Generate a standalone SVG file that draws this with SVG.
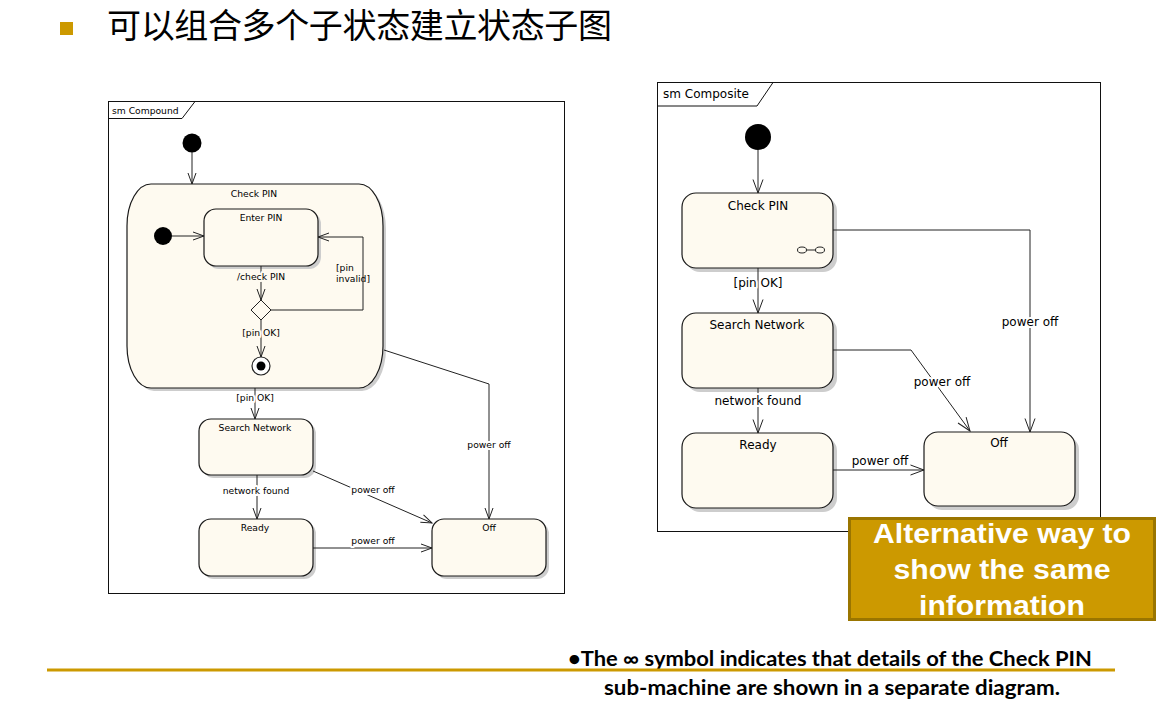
<svg xmlns="http://www.w3.org/2000/svg" width="1165" height="725" viewBox="0 0 1165 725">
  <defs>
    <!-- open V arrowheads for transitions -->
    <marker id="arrS" markerWidth="14" markerHeight="10" refX="12" refY="5" orient="auto" markerUnits="userSpaceOnUse">
      <path d="M1,1 L12,5 L1,9" fill="none" stroke="#222" stroke-width="1"/>
    </marker>
    <marker id="arrL" markerWidth="16" markerHeight="12" refX="14.5" refY="6" orient="auto" markerUnits="userSpaceOnUse">
      <path d="M1,1 L14.5,6 L1,11" fill="none" stroke="#222" stroke-width="1"/>
    </marker>
  </defs>
  <style>
    .frame{fill:none;stroke:#111;stroke-width:1}
    .st{fill:#FEFAF0;stroke:#1a1a1a;stroke-width:1.2}
    .sh{fill:#cdcdcd}
    .ln{fill:none;stroke:#222;stroke-width:1}
    .lnS{marker-end:url(#arrS)}
    .lnL{marker-end:url(#arrL)}
    .t9{font-family:"DejaVu Sans",Verdana,sans-serif;font-size:9.2px;fill:#000}
    .t12{font-family:"DejaVu Sans",Verdana,sans-serif;font-size:12px;fill:#000}
    .mid{text-anchor:middle}
    .bgc{paint-order:stroke;stroke:#FEFAF0;stroke-width:4px;stroke-linejoin:round}
    .bgw{paint-order:stroke;stroke:#fff;stroke-width:4px;stroke-linejoin:round}
    .note{font-family:Lato,"Open Sans","DejaVu Sans",sans-serif;font-weight:bold;font-size:20px;fill:#000}
    .callout{font-family:"Liberation Sans",Arial,sans-serif;font-weight:bold;font-size:28px;fill:#fff;text-anchor:middle}
  </style>

  <rect width="1165" height="725" fill="#fff"/>

  <!-- heading -->
  <g id="heading">
    <rect x="60" y="22" width="13" height="13" fill="#CC9900"/>
    <text x="107" y="38" font-family="'Noto Sans CJK SC','Noto Sans CJK JP',sans-serif" font-size="34" textLength="505" lengthAdjust="spacing" fill="#000">可以组合多个子状态建立状态子图</text>
  </g>

  <!-- ===== left: compound state machine ===== -->
  <g id="frame-compound">
    <rect x="108.5" y="101.5" width="456" height="492" class="frame"/>
    <path d="M108.5,118.5 H182 L195,101.5" class="frame"/>
    <text x="112" y="114" class="t9">sm Compound</text>
  </g>

  <g id="left-initial">
    <circle cx="192" cy="143" r="9.5" fill="#000"/>
  </g>

  <g id="left-check-pin">
    <path class="sh" transform="translate(3,3)" d="M151,184 H359 A24,42 0 0 1 383,226 V346 A24,42 0 0 1 359,388 H151 A24,42 0 0 1 127,346 V226 A24,42 0 0 1 151,184 Z"/>
    <path class="st" d="M151,184 H359 A24,42 0 0 1 383,226 V346 A24,42 0 0 1 359,388 H151 A24,42 0 0 1 127,346 V226 A24,42 0 0 1 151,184 Z"/>
    <text x="254" y="197" class="t9 mid">Check PIN</text>
  </g>

  <g id="left-enter-pin">
    <rect class="sh" x="207" y="212" width="114" height="57" rx="12"/>
    <rect class="st" x="204" y="209" width="114" height="57" rx="12"/>
    <text x="261" y="221" class="t9 mid">Enter PIN</text>
  </g>

  <g id="left-inner-initial">
    <circle cx="163" cy="236" r="9" fill="#000"/>
  </g>

  <g id="left-choice">
    <path d="M261,300 L271,310 L261,320 L251,310 Z" fill="#FEFAF0" stroke="#222" stroke-width="1"/>
  </g>

  <g id="left-final">
    <circle cx="261" cy="366" r="9" fill="#fff" stroke="#222" stroke-width="1.2"/>
    <circle cx="261" cy="366" r="4.5" fill="#000"/>
  </g>

  <g id="left-search-network">
    <rect class="sh" x="202" y="422" width="114" height="56" rx="12"/>
    <rect class="st" x="199" y="419" width="114" height="56" rx="12"/>
    <text x="255" y="431" class="t9 mid">Search Network</text>
  </g>

  <g id="left-ready">
    <rect class="sh" x="202" y="522" width="114" height="57" rx="12"/>
    <rect class="st" x="199" y="519" width="114" height="57" rx="12"/>
    <text x="255" y="531" class="t9 mid">Ready</text>
  </g>

  <g id="left-off">
    <rect class="sh" x="435" y="522" width="114" height="57" rx="12"/>
    <rect class="st" x="432" y="519" width="114" height="57" rx="12"/>
    <text x="489" y="531" class="t9 mid">Off</text>
  </g>

  <!-- ===== right: composite state machine ===== -->
  <g id="frame-composite">
    <rect x="657.5" y="82.5" width="443" height="449" class="frame"/>
    <path d="M657.5,106 H757 L773,82.5" class="frame"/>
    <text x="663" y="98" class="t12">sm Composite</text>
  </g>

  <g id="right-initial">
    <circle cx="758" cy="137" r="13" fill="#000"/>
  </g>

  <g id="right-check-pin">
    <rect class="sh" x="686" y="197" width="151" height="75" rx="14"/>
    <rect class="st" x="682" y="193" width="151" height="75" rx="14"/>
    <text x="758" y="210" class="t12 mid">Check PIN</text>
    <!-- sub-machine (infinity) marker -->
    <ellipse cx="802" cy="250" rx="4.5" ry="3" fill="none" stroke="#222" stroke-width="1"/>
    <ellipse cx="820" cy="250" rx="4.5" ry="3" fill="none" stroke="#222" stroke-width="1"/>
    <line x1="806.5" y1="250" x2="815.5" y2="250" stroke="#222" stroke-width="1"/>
  </g>

  <g id="right-search-network">
    <rect class="sh" x="686" y="317" width="151" height="75" rx="14"/>
    <rect class="st" x="682" y="313" width="151" height="75" rx="14"/>
    <text x="757" y="329" class="t12 mid">Search Network</text>
  </g>

  <g id="right-ready">
    <rect class="sh" x="686" y="437" width="151" height="75" rx="14"/>
    <rect class="st" x="682" y="433" width="151" height="75" rx="14"/>
    <text x="758" y="449" class="t12 mid">Ready</text>
  </g>

  <g id="right-off">
    <rect class="sh" x="928" y="436" width="151" height="74" rx="14"/>
    <rect class="st" x="924" y="432" width="151" height="74" rx="14"/>
    <text x="999" y="447" class="t12 mid">Off</text>
  </g>

  <!-- ===== transitions ===== -->
  <g id="connectors">
    <!-- left -->
    <line class="ln lnS" x1="192" y1="152" x2="192" y2="184"/>
    <line class="ln lnS" x1="172" y1="236" x2="204" y2="236"/>
    <line class="ln lnS" x1="261" y1="266" x2="261" y2="300"/>
    <polyline class="ln lnS" points="271,310 363,310 363,237 318,237"/>
    <line class="ln lnS" x1="261" y1="320" x2="261" y2="357"/>
    <line class="ln lnS" x1="255" y1="388" x2="255" y2="419"/>
    <line class="ln lnS" x1="257" y1="475" x2="257" y2="519"/>
    <line class="ln lnS" x1="313" y1="471" x2="432" y2="523"/>
    <line class="ln lnS" x1="313" y1="548" x2="432" y2="548"/>
    <polyline class="ln lnS" points="384,350 489,384 489,519"/>

    <!-- right -->
    <line class="ln lnL" x1="758" y1="150" x2="758" y2="193"/>
    <line class="ln lnL" x1="758" y1="268" x2="758" y2="313"/>
    <line class="ln lnL" x1="758" y1="388" x2="758" y2="433"/>
    <polyline class="ln lnL" points="833,230 1030,230 1030,432"/>
    <polyline class="ln lnL" points="833,350 911,350 970,431"/>
    <line class="ln lnL" x1="833" y1="470" x2="924" y2="470"/>

    <!-- left labels -->
    <text x="261" y="280" class="t9 mid bgc">/check PIN</text>
    <text x="336" y="271" class="t9">[pin</text>
    <text x="336" y="282" class="t9">invalid]</text>
    <text x="261" y="336" class="t9 mid bgc">[pin OK]</text>
    <text x="255" y="401" class="t9 mid bgw">[pin OK]</text>
    <text x="256" y="494" class="t9 mid bgw">network found</text>
    <text x="373" y="493" class="t9 mid bgw">power off</text>
    <text x="373" y="544" class="t9 mid bgw">power off</text>
    <text x="489" y="448" class="t9 mid bgw">power off</text>

    <!-- right labels -->
    <text x="758" y="287" class="t12 mid bgw">[pin OK]</text>
    <text x="1030" y="326" class="t12 mid bgw">power off</text>
    <text x="942" y="386" class="t12 mid bgw">power off</text>
    <text x="758" y="405" class="t12 mid bgw">network found</text>
    <text x="880" y="465" class="t12 mid">power off</text>
  </g>

  <!-- callout -->
  <g id="callout">
    <rect x="849.5" y="518.5" width="305" height="101" fill="#CC9900" stroke="#9A7500" stroke-width="3"/>
    <text x="1002" y="543" class="callout" textLength="258" lengthAdjust="spacingAndGlyphs">Alternative way to</text>
    <text x="1002" y="579" class="callout" textLength="217" lengthAdjust="spacingAndGlyphs">show the same</text>
    <text x="1002" y="615" class="callout" textLength="166" lengthAdjust="spacingAndGlyphs">information</text>
  </g>

  <!-- footnote -->
  <g id="footnote">
    <text x="568" y="666" class="note" textLength="524" lengthAdjust="spacingAndGlyphs">•The ∞ symbol indicates that details of the Check PIN</text>
    <text x="604" y="695" class="note" textLength="456" lengthAdjust="spacingAndGlyphs">sub-machine are shown in a separate diagram.</text>
    <line x1="47" y1="670" x2="1115" y2="670" stroke="#CC9900" stroke-width="3"/>
  </g>
</svg>
